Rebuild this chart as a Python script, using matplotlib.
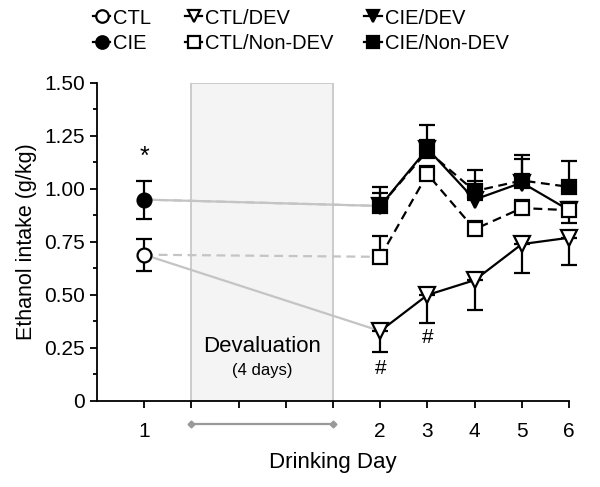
import numpy as np
import matplotlib.pyplot as plt
from matplotlib.lines import Line2D

plt.rcParams['font.family'] = ['Liberation Sans', 'DejaVu Sans']

# day 1 (baseline) values
day1_pos = 1
ctl_day1, ctl_day1_err = 0.69, 0.075
cie_day1, cie_day1_err = 0.95, 0.09

# post-devaluation days 2-6
day_labels = ['2', '3', '4', '5', '6']
day_pos = [6, 7, 8, 9, 10]

ctl_dev = [0.33, 0.50, 0.57, 0.74, 0.77]
ctl_dev_err = [0.10, 0.13, 0.14, 0.135, 0.13]          # drawn downward

ctl_nondev = [0.68, 1.07, 0.81, 0.91, 0.90]
ctl_nondev_err = [0.10, 0.04, 0.04, 0.04, 0.04]      # drawn upward

cie_dev = [0.92, 1.19, 0.95, 1.03, 0.90]
cie_dev_err_up = [0.06, 0.11, 0.09, 0.11, 0.0]
cie_dev_err_dn = [0.0, 0.0, 0.0, 0.0, 0.06]

cie_nondev = [0.92, 1.18, 0.99, 1.04, 1.01]
cie_nondev_err = [0.09, 0.05, 0.10, 0.12, 0.12]      # drawn upward

y_ticks = [0, 0.25, 0.5, 0.75, 1.0, 1.25, 1.5]
y_ticklabels = ['0', '0.25', '0.50', '0.75', '1.00', '1.25', '1.50']

fig = plt.figure(figsize=(6, 4.87), dpi=100)
ax = fig.add_axes([0.1617, 0.1766, 0.7867, 0.653])

lw = 1.6
ms = 10
cap = 6
grey = '#c4c4c4'

# connectors from day 1 to day 2
ax.plot([day1_pos, day_pos[0]], [ctl_day1, ctl_dev[0]], color=grey, lw=lw, zorder=1)
ax.plot([day1_pos, day_pos[0]], [ctl_day1, ctl_nondev[0]], color=grey, lw=lw, ls=(0, (4, 2.5)), zorder=1)
ax.plot([day1_pos, day_pos[0]], [cie_day1, cie_dev[0]], color=grey, lw=lw, zorder=1)
ax.plot([day1_pos, day_pos[0]], [cie_day1, cie_nondev[0]], color=grey, lw=lw, ls=(0, (4, 2.5)), zorder=1)

# devaluation box
ax.add_patch(plt.Rectangle((2, 0), 3, 1.5, facecolor='#f4f4f4', edgecolor='#c8c8c8', lw=1.3, zorder=0.5))
ax.text(3.5, 0.255, 'Devaluation', ha='center', va='center', fontsize=16)
ax.text(3.5, 0.146, '(4 days)', ha='center', va='center', fontsize=12)

containers = []
# day 1 points
containers.append(ax.errorbar(day1_pos, ctl_day1, yerr=ctl_day1_err, fmt='o', color='k', mfc='white',
                              ms=ms, mew=lw, elinewidth=lw, capsize=cap, capthick=lw, zorder=5))
containers.append(ax.errorbar(day1_pos, cie_day1, yerr=cie_day1_err, fmt='o', color='k', mfc='k',
                              ms=ms, mew=lw, elinewidth=lw, capsize=cap, capthick=lw, zorder=5))

# days 2-6
containers.append(ax.errorbar(day_pos, ctl_dev, yerr=[ctl_dev_err, [0] * 5], fmt='-v', color='k', mfc='white',
                              ms=ms + 1, mew=lw, lw=lw, elinewidth=lw, capsize=cap, capthick=lw, zorder=3))
containers.append(ax.errorbar(day_pos, ctl_nondev, yerr=[[0] * 5, ctl_nondev_err], fmt='--s', color='k',
                              mfc='white', ms=ms, mew=lw, lw=lw, elinewidth=lw, capsize=cap, capthick=lw,
                              zorder=4, dashes=(4, 2.5)))
containers.append(ax.errorbar(day_pos, cie_dev, yerr=[cie_dev_err_dn, cie_dev_err_up], fmt='-v', color='k',
                              mfc='k', ms=ms + 1, mew=lw, lw=lw, elinewidth=lw, capsize=cap, capthick=lw,
                              zorder=3.5))
containers.append(ax.errorbar(day_pos, cie_nondev, yerr=[[0] * 5, cie_nondev_err], fmt='--s', color='k',
                              mfc='k', ms=ms, mew=lw, lw=lw, elinewidth=lw, capsize=cap, capthick=lw,
                              zorder=3.8, dashes=(4, 2.5)))
for c in containers:
    for art in c.get_children():
        art.set_clip_on(False)

# significance marks
ax.text(day1_pos, 1.15, '*', ha='center', va='center', fontsize=18)
ax.text(day_pos[0], 0.155, '#', ha='center', va='center', fontsize=15)
ax.text(day_pos[1], 0.30, '#', ha='center', va='center', fontsize=15)

# devaluation span arrow under the axis
ax.plot([2, 5], [-0.11, -0.11], color='#999999', lw=1.6, marker='D', ms=3.5, clip_on=False)

ax.set_xlim(0, 10)
ax.set_ylim(0, 1.5)
ax.set_xticks(range(1, 11))
ax.set_xticklabels(['1', '', '', '', ''] + day_labels)
ax.set_yticks(y_ticks)
ax.set_yticklabels(y_ticklabels)
ax.set_yticks(np.arange(0.125, 1.5, 0.25), minor=True)
ax.tick_params(axis='both', labelsize=15, width=1.3, length=5)
ax.tick_params(axis='y', which='minor', width=1.3, length=3)
ax.tick_params(axis='x', pad=10)
for s in ['top', 'right']:
    ax.spines[s].set_visible(False)
for s in ['left', 'bottom']:
    ax.spines[s].set_linewidth(1.3)

ax.set_xlabel('Drinking Day', fontsize=16, labelpad=8)
ax.set_ylabel('Ethanol intake (g/kg)', fontsize=15.5, labelpad=5)

# legend: three columns placed separately
labels = ['CTL', 'CIE', 'CTL/DEV', 'CTL/Non-DEV', 'CIE/DEV', 'CIE/Non-DEV']
markers = ['o', 'o', 'v', 's', 'v', 's']
fills = ['white', 'k', 'white', 'white', 'k', 'k']
handles = [Line2D([], [], color='k', lw=lw, marker=m, mfc=f, mew=lw, ms=9) for m, f in zip(markers, fills)]
col_x = [0.142, 0.295, 0.594]
for i, x in enumerate(col_x):
    fig.legend(handles[2 * i:2 * i + 2], labels[2 * i:2 * i + 2], loc='upper left', bbox_to_anchor=(x, 0.999),
               frameon=False, fontsize=14.5, handlelength=0.85, handletextpad=0.15, labelspacing=0.3,
               borderaxespad=0.2, borderpad=0.2)

fig.savefig('out.png', dpi=100)
